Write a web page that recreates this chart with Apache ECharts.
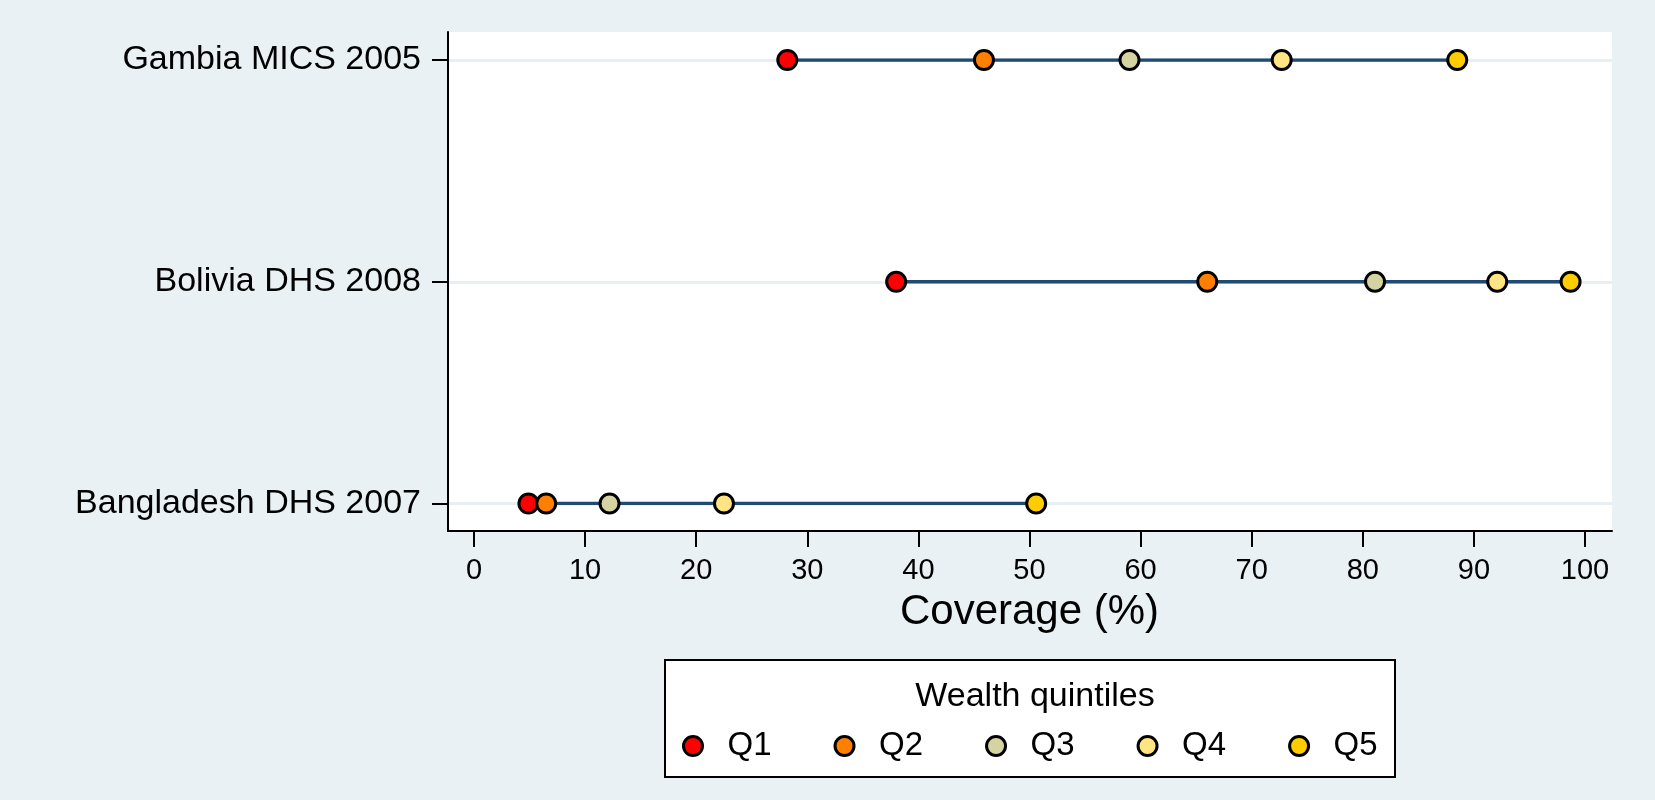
<!DOCTYPE html>
<html lang="en" style="height: 100%">

<head>
  <meta charset="utf-8">
</head>

<body style="height: 100%; margin: 0; background: #e9f1f4">
  <div id="container" style="height: 100%"></div>

  <script type="text/javascript" src="https://cdn.jsdelivr.net/npm/echarts@6/dist/echarts.min.js"></script>

  <script type="text/javascript">
    // survey rows, top to bottom
    var surveys = ['Gambia MICS 2005', 'Bolivia DHS 2008', 'Bangladesh DHS 2007'];
    var quintiles = ['Q1', 'Q2', 'Q3', 'Q4', 'Q5'];
    var quintileColors = ['#ff0000', '#ff8000', '#d6d3a3', '#fee483', '#ffcc00'];
    // coverage (%) per quintile, one value per survey row
    var q1 = [28.2, 38.0, 4.9];
    var q2 = [45.9, 66.0, 6.5];
    var q3 = [59.0, 81.1, 12.2];
    var q4 = [72.7, 92.1, 22.5];
    var q5 = [88.5, 98.7, 50.6];
    var xTicks = [0, 10, 20, 30, 40, 50, 60, 70, 80, 90, 100];

    var values = [q1, q2, q3, q4, q5];
    var font = 'Liberation Sans';

    var dom = document.getElementById('container');
    var myChart = echarts.init(dom, null, { renderer: 'canvas' });

    var series = [];
    // connecting line per survey
    surveys.forEach(function (s, i) {
      series.push({
        type: 'line',
        xAxisIndex: 1,
        yAxisIndex: 1,
        silent: true,
        symbol: 'none',
        lineStyle: { color: '#1f4b73', width: 3.5 },
        data: values.map(function (v) { return [v[i], s]; }),
        z: 2
      });
    });
    quintiles.forEach(function (q, k) {
      series.push({
        name: q,
        type: 'scatter',
        xAxisIndex: 1,
        yAxisIndex: 1,
        symbol: 'circle',
        symbolSize: 19,
        itemStyle: { color: quintileColors[k], borderColor: '#000', borderWidth: 3, opacity: 1 },
        data: surveys.map(function (s, i) { return [values[k][i], s]; }),
        z: 3 + k
      });
    });

    var option = {
      backgroundColor: '#e9f1f4',
      animation: false,
      textStyle: { fontFamily: font },
      title: {
        text: 'Wealth quintiles',
        left: 1030,
        textAlign: 'center',
        top: 675,
        textStyle: { fontFamily: font, fontSize: 34, fontWeight: 'normal', color: '#000' }
      },
      legend: {
        data: quintiles,
        left: 682,
        top: 727,
        padding: 0,
        icon: 'circle',
        itemWidth: 19,
        itemHeight: 19,
        itemGap: 62,
        itemStyle: { borderWidth: 3 },
        textStyle: { fontFamily: font, fontSize: 33, color: '#000', lineHeight: 38, padding: [0, 0, 0, 20] }
      },
      graphic: [{
        type: 'rect',
        shape: { x: 665, y: 660, width: 730, height: 117 },
        style: { fill: '#fff', stroke: '#000', lineWidth: 2 },
        z: 0
      }],
      grid: [
        // frame
        { left: 448, top: 32, width: 1164, height: 499, show: true, backgroundColor: '#fff', borderWidth: 0 },
        // data
        { left: 448, top: 60, width: 1164, height: 443.5 },
        // x tick labels
        { left: 474, top: 32, width: 1111, height: 499 }
      ],
      xAxis: [
        {
          gridIndex: 0, type: 'value', min: 0, max: 1,
          axisLine: { show: true, onZero: false, lineStyle: { color: '#000', width: 2 } },
          axisTick: { show: false }, axisLabel: { show: false }, splitLine: { show: false }
        },
        {
          gridIndex: 1, type: 'value', min: -2.34, max: 102.43, show: false,
          axisLine: { onZero: false }
        },
        {
          gridIndex: 2, type: 'value', min: 0, max: 100, interval: 10,
          axisLine: { show: false, onZero: false },
          axisTick: { show: true, length: 16, lineStyle: { color: '#000', width: 2 } },
          axisLabel: {
            margin: 25, fontFamily: font, fontSize: 29, color: '#000',
            formatter: function (v) { return xTicks.indexOf(v) >= 0 ? String(v) : ''; }
          },
          splitLine: { show: false },
          name: 'Coverage (%)',
          nameLocation: 'middle',
          nameGap: 60,
          nameTextStyle: { fontFamily: font, fontSize: 42, color: '#000', verticalAlign: 'top' }
        }
      ],
      yAxis: [
        {
          gridIndex: 0, type: 'value', min: 0, max: 1,
          axisLine: { show: true, onZero: false, lineStyle: { color: '#000', width: 2 } },
          axisTick: { show: false }, axisLabel: { show: false }, splitLine: { show: false }
        },
        {
          gridIndex: 1, type: 'category', data: surveys, inverse: true, boundaryGap: false,
          axisLine: { show: false, onZero: false },
          axisTick: { show: true, length: 16, lineStyle: { color: '#000', width: 2 } },
          axisLabel: { margin: 27, fontFamily: font, fontSize: 34, color: '#000' },
          splitLine: { show: true, lineStyle: { color: '#e8eff2', width: 3 } }
        },
        {
          gridIndex: 2, type: 'value', min: 0, max: 1, show: false,
          axisLine: { onZero: false }
        }
      ],
      series: series
    };

    myChart.setOption(option);
    window.addEventListener('resize', myChart.resize);
  </script>
</body>

</html>
